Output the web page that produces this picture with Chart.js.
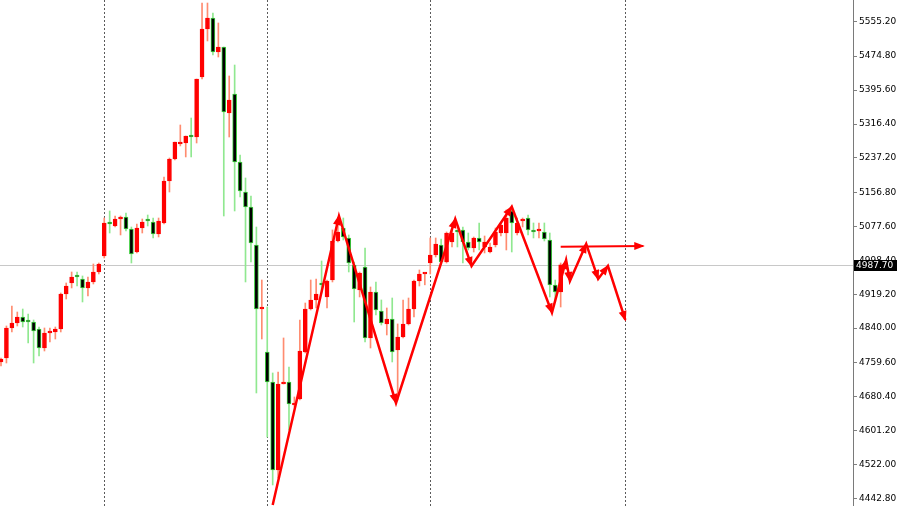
<!DOCTYPE html>
<html>
<head>
<meta charset="utf-8">
<script src="https://cdn.jsdelivr.net/npm/chart.js@4.4.1/dist/chart.umd.min.js"></script>
<style>
  html, body { margin: 0; padding: 0; background: #ffffff; }
  canvas { display: block; }
</style>
</head>
<body>
<canvas id="grafico" width="900" height="506"></canvas>
<script>
// candles (one per bar, left to right)
const opens = [4761.0, 4770.3, 4840.3, 4852.0, 4866.0, 4854.3, 4854.3, 4838.0, 4793.6, 4828.6,
  4831.0, 4838.0, 4919.7, 4945.3, 4959.4, 4954.7, 4933.7, 4947.7, 4971.0, 5008.3,
  5083.0, 5078.4, 5094.7, 5099.4, 5071.4, 5017.7, 5073.7, 5090.0, 5087.7, 5059.7,
  5085.4, 5183.3, 5234.8, 5269.8, 5272.1, 5286.1, 5286.1, 5426.1, 5538.2, 5563.8,
  5484.5, 5496.1, 5342.1, 5386.5, 5227.7, 5157.7, 5122.7, 5034.0, 4884.6, 4784.3,
  4714.3, 4508.9, 4709.6, 4714.3, 4660.6, 4674.6, 4784.3, 4884.6, 4905.7, 4945.3,
  4912.7, 4952.3, 5043.4, 5073.7, 5050.4, 4987.3, 4929.0, 4982.7, 4817.0, 4924.3,
  4880.0, 4849.7, 4861.3, 4789.0, 4819.3, 4849.7, 4884.6, 4950.0, 4966.4, 4992.0,
  5010.7, 5034.0, 4994.3, 5041.0, 5064.4, 5069.1, 5041.0, 5027.0, 5050.4, 5029.4,
  5017.7, 5034.0, 5062.0, 5062.0, 5113.4, 5062.0, 5090.0, 5097.0, 5069.1, 5066.7,
  5064.4, 5045.7, 4940.7, 4924.3];
const highs = [4770.3, 4845.0, 4891.6, 4877.6, 4884.6, 4873.0, 4859.0, 4842.6, 4840.3, 4840.3,
  4842.6, 4922.0, 4945.3, 4971.0, 4971.0, 4961.7, 4959.4, 4989.7, 4992.0, 5097.0,
  5113.4, 5101.7, 5101.7, 5108.7, 5076.0, 5083.0, 5094.7, 5104.0, 5097.0, 5097.0,
  5192.7, 5237.1, 5274.5, 5314.1, 5288.4, 5330.4, 5421.4, 5598.8, 5598.8, 5575.5,
  5552.2, 5496.1, 5428.5, 5454.1, 5244.1, 5190.4, 5148.4, 5076.0, 4952.3, 4889.3,
  4735.3, 4737.6, 4817.0, 4749.3, 4679.3, 4859.0, 4898.6, 4952.3, 4954.7, 4996.7,
  4952.3, 5069.1, 5099.4, 5097.0, 5057.4, 4994.3, 4971.0, 5027.0, 4936.0, 4947.7,
  4905.7, 4887.0, 4910.3, 4849.7, 4905.7, 4910.3, 4952.3, 4975.7, 4968.7, 5050.4,
  5050.4, 5048.0, 5064.4, 5073.7, 5069.1, 5076.0, 5062.0, 5052.7, 5085.4, 5055.0,
  5038.7, 5073.7, 5085.4, 5115.7, 5115.7, 5097.0, 5097.0, 5104.0, 5085.4, 5085.4,
  5085.4, 5062.0, 4952.3, 4992.0];
const lows = [4751.6, 4758.6, 4831.0, 4845.0, 4842.6, 4805.3, 4758.6, 4775.0, 4786.6, 4807.6,
  4814.6, 4831.0, 4908.0, 4933.7, 4938.3, 4901.0, 4915.0, 4943.0, 4966.4, 5003.7,
  5062.0, 5076.0, 5057.4, 5066.7, 4992.0, 5015.4, 5062.0, 5078.4, 5050.4, 5052.7,
  5083.0, 5157.7, 5232.4, 5265.2, 5239.5, 5239.5, 5272.1, 5421.4, 5510.2, 5477.5,
  5472.8, 5101.7, 5286.1, 5113.4, 5146.1, 4947.7, 4994.3, 4688.6, 4814.6, 4585.9,
  4473.9, 4490.2, 4709.6, 4602.2, 4655.9, 4672.3, 4782.0, 4882.3, 4887.0, 4922.0,
  4887.0, 4947.7, 5041.0, 5045.7, 4971.0, 4854.3, 4912.7, 4807.6, 4793.6, 4870.6,
  4847.3, 4824.0, 4761.0, 4672.3, 4817.0, 4847.3, 4866.0, 4938.3, 4941.0, 4966.4,
  5006.0, 4992.0, 4992.0, 5029.4, 5029.4, 4992.0, 5022.4, 5017.7, 5022.4, 5015.4,
  5015.4, 5029.4, 5055.0, 5022.4, 5017.7, 5057.4, 5076.0, 5057.4, 5050.4, 5050.4,
  5043.4, 4912.7, 4901.0, 4889.3];
const closes = [4768.0, 4840.3, 4852.0, 4866.0, 4854.3, 4854.3, 4833.3, 4793.6, 4828.6, 4833.3,
  4838.0, 4919.7, 4938.3, 4959.4, 4959.4, 4933.7, 4947.7, 4971.0, 4989.7, 5085.4,
  5083.0, 5094.7, 5099.4, 5071.4, 5013.0, 5073.7, 5087.7, 5090.0, 5059.7, 5090.0,
  5183.3, 5234.8, 5274.5, 5274.5, 5288.4, 5286.1, 5421.4, 5538.2, 5563.8, 5484.5,
  5496.1, 5344.4, 5372.5, 5227.7, 5160.0, 5122.7, 5038.7, 4884.6, 4887.0, 4714.3,
  4508.9, 4709.6, 4714.3, 4662.9, 4665.3, 4786.6, 4884.6, 4905.7, 4919.7, 4940.7,
  4950.0, 5043.4, 5064.4, 5052.7, 4992.0, 4931.3, 4968.7, 4817.0, 4924.3, 4882.3,
  4852.0, 4861.3, 4784.3, 4819.3, 4849.7, 4884.6, 4950.0, 4966.4, 4968.7, 5010.7,
  5036.4, 4994.3, 5062.0, 5062.0, 5064.4, 5041.0, 5027.0, 5050.4, 5041.0, 5041.0,
  5029.4, 5064.4, 5080.7, 5097.0, 5085.4, 5085.4, 5094.7, 5069.1, 5064.4, 5069.1,
  5048.0, 4940.7, 4924.3, 4987.7];

// price axis labels
const yTicks = [5555.20, 5474.80, 5395.60, 5316.40, 5237.20, 5156.80, 5077.60, 4998.40,
  4919.20, 4840.00, 4759.60, 4680.40, 4601.20, 4522.00, 4442.80];

// period separators (bar index)
const separadores = [19, 49, 79, 115];

// hand drawn zigzag (bar index, price)
const zigX = [50.0, 62.2, 72.7, 83.6, 86.6, 94.0, 101.4, 104.0, 104.7, 107.7, 109.9, 111.7, 114.9];
const zigY = [4427.0, 5101.7, 4665.3, 5094.7, 4985.0, 5123.4, 4876.0, 4999.0, 4950.0, 5036.4, 4954.7, 4985.0, 4859.0];
const setaX = [103.0, 118.2];
const setaY = [5030.0, 5031.7];

const ultimoPreco = closes[closes.length - 1];

const alta = (i) => closes[i] > opens[i];

const corpos = opens.map((o, i) => ({ x: i, y: [o, closes[i]] }));
const pavios = opens.map((o, i) => ({ x: i, y: [lows[i], highs[i]] }));

const linhaPreco = {
    id: 'linhaPreco',
    beforeDatasetsDraw(chart) {
        const { ctx, chartArea } = chart;
        const y = Math.round(chart.scales.y.getPixelForValue(ultimoPreco)) + 0.5;
        ctx.save();
        ctx.strokeStyle = '#c8c8c8';
        ctx.lineWidth = 1;
        ctx.beginPath();
        ctx.moveTo(chartArea.left, y);
        ctx.lineTo(chartArea.right, y);
        ctx.stroke();
        ctx.restore();
    },
    afterDraw(chart) {
        const { ctx, chartArea } = chart;
        const y = chart.scales.y.getPixelForValue(ultimoPreco);
        ctx.save();
        ctx.fillStyle = '#000000';
        ctx.fillRect(chartArea.right + 1, Math.round(y) - 5, 43, 11);
        ctx.fillStyle = '#ffffff';
        ctx.font = '9px "DejaVu Sans"';
        ctx.textBaseline = 'middle';
        ctx.fillText(ultimoPreco.toFixed(2), chartArea.right + 3, Math.round(y) + 0.5);
        ctx.restore();
    }
};

const setas = {
    id: 'setas',
    afterDatasetsDraw(chart) {
        const ctx = chart.ctx;
        chart.data.datasets.forEach((ds, di) => {
            if (!ds.setas) return;
            const pts = chart.getDatasetMeta(di).data;
            ctx.save();
            ctx.fillStyle = ds.borderColor;
            for (let k = 1; k < pts.length; k++) {
                const a = pts[k - 1], b = pts[k];
                const ang = Math.atan2(b.y - a.y, b.x - a.x);
                const c = Math.cos(ang), s = Math.sin(ang);
                ctx.beginPath();
                ctx.moveTo(b.x + c * 1.5, b.y + s * 1.5);
                ctx.lineTo(b.x - 9 * c + 4 * s, b.y - 9 * s - 4 * c);
                ctx.lineTo(b.x - 9 * c - 4 * s, b.y - 9 * s + 4 * c);
                ctx.closePath();
                ctx.fill();
            }
            ctx.restore();
        });
    }
};

const graf = document.getElementById('grafico');

new Chart(graf, {
    type: 'bar',
    data: {
        datasets: [
            {
                label: 'corpo',
                data: corpos,
                grouped: false,
                barThickness: 4,
                minBarLength: 2,
                borderWidth: 1,
                borderSkipped: false,
                backgroundColor: opens.map((o, i) => alta(i) ? '#ff0000' : '#000000'),
                borderColor: opens.map((o, i) => alta(i) ? '#ff0000' : '#3ccc3c'),
                order: 2,
            },
            {
                label: 'pavio',
                data: pavios,
                grouped: false,
                barThickness: 1,
                borderWidth: 0,
                backgroundColor: opens.map((o, i) => alta(i) ? '#ff8c70' : '#90e890'),
                order: 3,
            },
            {
                type: 'line',
                label: 'zigzag',
                data: zigX.map((x, i) => ({ x: x, y: zigY[i] })),
                borderColor: '#ff0000',
                borderWidth: 2.5,
                pointRadius: 0,
                tension: 0,
                setas: true,
                order: 1,
            },
            {
                type: 'line',
                label: 'seta',
                data: setaX.map((x, i) => ({ x: x, y: setaY[i] })),
                borderColor: '#ff0000',
                borderWidth: 2,
                pointRadius: 0,
                tension: 0,
                setas: true,
                order: 1,
            },
        ],
    },
    options: {
        responsive: false,
        animation: false,
        devicePixelRatio: 1,
        layout: { padding: 0 },
        plugins: {
            legend: { display: false },
            tooltip: { enabled: false },
        },
        scales: {
            x: {
                type: 'linear',
                min: -0.184,
                max: 156.8,
                offset: false,
                afterBuildTicks: (scale) => {
                    scale.ticks = separadores.map(v => ({ value: v }));
                },
                afterFit: (scale) => {
                    scale.height = 0;
                    scale.paddingLeft = 0;
                    scale.paddingRight = 0;
                },
                ticks: { display: false },
                grid: {
                    offset: false,
                    drawTicks: false,
                    color: '#5a5a5a',
                    lineWidth: 1,
                },
                border: { display: false, dash: [2, 2] },
            },
            y: {
                position: 'right',
                min: 4424.8,
                max: 5605.85,
                afterBuildTicks: (scale) => {
                    scale.ticks = yTicks.map(v => ({ value: v }));
                },
                afterFit: (scale) => {
                    scale.width = 47;
                    scale.paddingTop = 0;
                    scale.paddingBottom = 0;
                },
                ticks: {
                    color: '#000000',
                    padding: 2,
                    font: { family: 'DejaVu Sans', size: 9 },
                    callback: (v) => Number(v).toFixed(2),
                },
                grid: {
                    drawOnChartArea: false,
                    drawTicks: true,
                    tickLength: 4,
                    color: '#808080',
                },
                border: { display: true, color: '#7a7a7a', width: 1 },
            },
        },
    },
    plugins: [linhaPreco, setas],
});
</script>
</body>
</html>
